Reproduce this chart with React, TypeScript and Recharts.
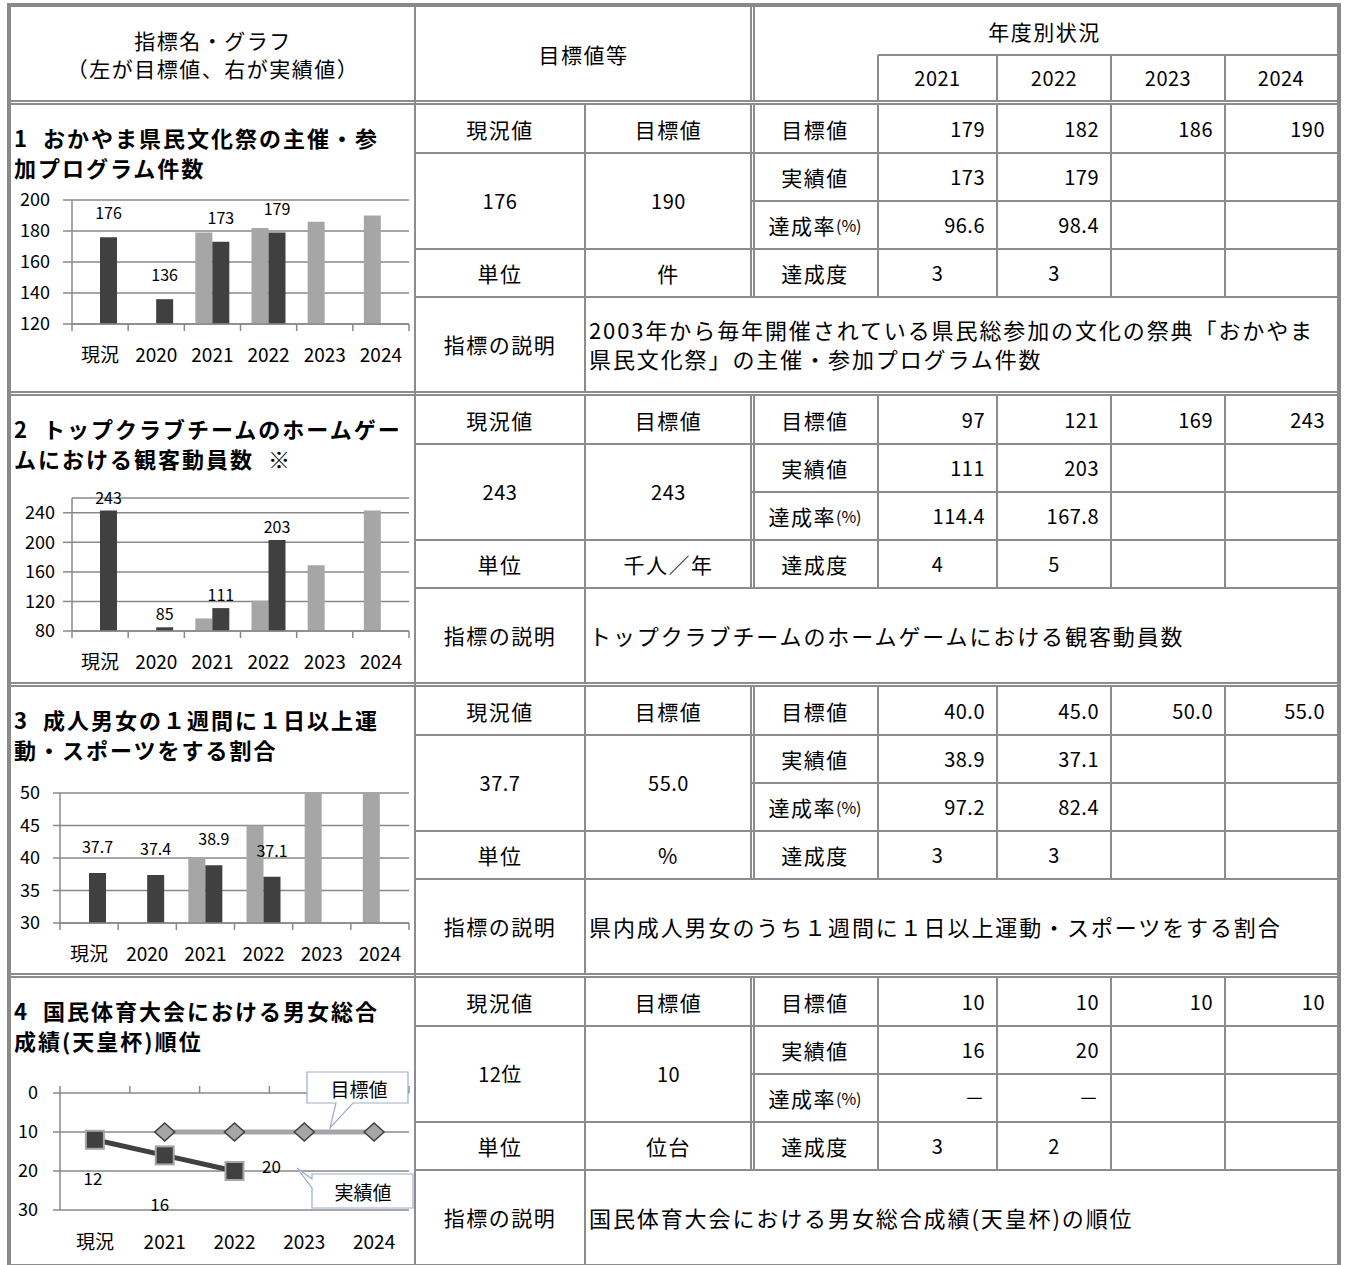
import type { ReactNode } from 'react'
import { Bar, BarChart, CartesianGrid, LabelList, Line, LineChart, XAxis, YAxis } from 'recharts'

const FONT = "'Noto Sans CJK JP', 'Noto Sans', sans-serif"
const LINE = '#8c8c8c'
const GRID = '#888888'
const LIGHT = '#a6a6a6'
const DARK = '#404040'

// chart data
const barCats = ['現況', '2020', '2021', '2022', '2023', '2024']
const rankCats = ['現況', '2021', '2022', '2023', '2024']

const festivalTarget = [null, null, 179, 182, 186, 190]
const festivalActual = [176, 136, 173, 179, null, null]
const festivalTicks = [120, 140, 160, 180, 200]

const spectatorTarget = [null, null, 97, 121, 169, 243]
const spectatorActual = [243, 85, 111, 203, null, null]
const spectatorTicks = [80, 120, 160, 200, 240]

const sportsTarget = [null, null, 40.0, 45.0, 50.0, 55.0]
const sportsActual = [37.7, 37.4, 38.9, 37.1, null, null]
const sportsTicks = [30, 35, 40, 45, 50]

const rankTarget = [null, 10, 10, 10, 10]
const rankActual = [12, 16, 20, null, null]
const rankTicks = [0, 10, 20, 30]

// table data
const years = ['2021', '2022', '2023', '2024']
const titles = [
  ['1  おかやま県民文化祭の主催・参', '加プログラム件数'],
  ['2  トップクラブチームのホームゲー', 'ムにおける観客動員数  ※'],
  ['3  成人男女の１週間に１日以上運', '動・スポーツをする割合'],
  ['4  国民体育大会における男女総合', '成績(天皇杯)順位'],
]
const currentValues = ['176', '243', '37.7', '12位']
const goalValues = ['190', '243', '55.0', '10']
const units = ['件', '千人／年', '%', '位台']
const yearTargets = [
  ['179', '182', '186', '190'],
  ['97', '121', '169', '243'],
  ['40.0', '45.0', '50.0', '55.0'],
  ['10', '10', '10', '10'],
]
const yearActuals = [['173', '179'], ['111', '203'], ['38.9', '37.1'], ['16', '20']]
const yearRates = [['96.6', '98.4'], ['114.4', '167.8'], ['97.2', '82.4'], ['－', '－']]
const yearGrades = [['3', '3'], ['4', '5'], ['3', '3'], ['3', '2']]
const descriptions = [
  ['2003年から毎年開催されている県民総参加の文化の祭典「おかやま', '県民文化祭」の主催・参加プログラム件数'],
  ['トップクラブチームのホームゲームにおける観客動員数'],
  ['県内成人男女のうち１週間に１日以上運動・スポーツをする割合'],
  ['国民体育大会における男女総合成績(天皇杯)の順位'],
]

const C1 = 415
const C2 = 585
const C3 = 752
const RIGHT = 1337
const yearCols = [[878, 997], [997, 1111], [1111, 1225], [1225, 1337]]
const sectionTops = [105, 396, 687, 978]
const ROW = 48

function HLine({ x1, x2, y, w = 2 }: { x1: number; x2: number; y: number; w?: number }) {
  return <div style={{ position: 'absolute', left: x1, top: y - w / 2, width: x2 - x1, height: w, background: LINE }} />
}

function VLine({ x, y1, y2, w = 2 }: { x: number; y1: number; y2: number; w?: number }) {
  return <div style={{ position: 'absolute', left: x - w / 2, top: y1, width: w, height: y2 - y1, background: LINE }} />
}

function HDouble({ x1, x2, y }: { x1: number; x2: number; y: number }) {
  return (
    <>
      <HLine x1={x1} x2={x2} y={y - 1.5} />
      <HLine x1={x1} x2={x2} y={y + 1.5} />
    </>
  )
}

function VDouble({ x, y1, y2 }: { x: number; y1: number; y2: number }) {
  return (
    <>
      <VLine x={x - 1.5} y1={y1} y2={y2} />
      <VLine x={x + 1.5} y1={y1} y2={y2} />
    </>
  )
}

function Box({
  x1, x2, y1, y2, align = 'center', pad = 0, size = 21, spacing = 1.5, bold = false, children,
}: {
  x1: number; x2: number; y1: number; y2: number; align?: string; pad?: number
  size?: number; spacing?: number; bold?: boolean; children: ReactNode
}) {
  return (
    <div
      style={{
        position: 'absolute', left: x1, top: y1, width: x2 - x1, height: y2 - y1,
        display: 'flex', alignItems: 'center',
        justifyContent: align === 'center' ? 'center' : align === 'right' ? 'flex-end' : 'flex-start',
        paddingLeft: align === 'left' ? pad : 0, paddingRight: align === 'right' ? pad : 0,
        boxSizing: 'border-box', fontSize: size, letterSpacing: spacing, lineHeight: 1,
        fontWeight: bold ? 700 : 400, whiteSpace: 'pre', color: '#000',
      }}
    >
      {children}
    </div>
  )
}

function CatTick(props: any) {
  const { x, payload, index, bw, axisY, labelY, last, up } = props
  const end = up ? axisY - 7 : axisY + 7
  return (
    <g>
      <line x1={x - bw / 2} x2={x - bw / 2} y1={axisY} y2={end} stroke={GRID} strokeWidth={1.5} />
      {index === last && <line x1={x + bw / 2} x2={x + bw / 2} y1={axisY} y2={end} stroke={GRID} strokeWidth={1.5} />}
      <text x={x} y={labelY} textAnchor="middle" dominantBaseline="central" fontSize={19} fontFamily={FONT} fill="#000">
        {payload.value}
      </text>
    </g>
  )
}

type BarPanelProps = {
  top: number; height: number; yWidth: number; marginTop: number; xHeight: number
  domain: [number, number]; ticks: number[]; tickSize: number; tickMargin: number
  target: (number | null)[]; actual: (number | null)[]; labelOffset: number
}

function BarPanel(p: BarPanelProps) {
  const data = barCats.map((cat, i) => ({ cat, target: p.target[i], actual: p.actual[i] }))
  const bw = (405 - p.yWidth - 6) / barCats.length
  const axisY = p.height - p.xHeight
  return (
    <div style={{ position: 'absolute', left: 10, top: p.top }}>
      <BarChart width={405} height={p.height} data={data} margin={{ top: p.marginTop, right: 6, left: 0, bottom: 0 }} barGap={0} barSize={17}>
        <CartesianGrid vertical={false} stroke={GRID} strokeWidth={1.5} />
        <XAxis
          dataKey="cat"
          interval={0}
          height={p.xHeight}
          tickLine={false}
          axisLine={{ stroke: GRID, strokeWidth: 1.5 }}
          tick={(t: any) => <CatTick {...t} bw={bw} axisY={axisY} labelY={axisY + 29} last={barCats.length - 1} />}
        />
        <YAxis
          width={p.yWidth}
          domain={p.domain}
          ticks={p.ticks}
          interval={0}
          allowDataOverflow
          tickSize={p.tickSize}
          tickMargin={p.tickMargin}
          tick={{ fill: '#000', fontSize: 18, fontFamily: FONT }}
          tickLine={{ stroke: GRID, strokeWidth: 1.5 }}
          axisLine={{ stroke: GRID, strokeWidth: 1.5 }}
        />
        <Bar dataKey="target" fill={LIGHT} isAnimationActive={false} />
        <Bar dataKey="actual" fill={DARK} isAnimationActive={false}>
          <LabelList dataKey="actual" position="top" offset={p.labelOffset} fill="#000" fontSize={16} fontFamily={FONT} />
        </Bar>
      </BarChart>
    </div>
  )
}

function Diamond(props: any) {
  const { cx, cy } = props
  if (cx == null || cy == null) return <g />
  return <polygon points={`${cx},${cy - 9} ${cx + 10},${cy} ${cx},${cy + 9} ${cx - 10},${cy}`} fill={LIGHT} stroke={DARK} strokeWidth={1.5} />
}

function Square(props: any) {
  const { cx, cy } = props
  if (cx == null || cy == null) return <g />
  return <rect x={cx - 9} y={cy - 9} width={18} height={18} fill={DARK} stroke={LIGHT} strokeWidth={2} />
}

const rankLabelShift = [[-2, 38], [-5, 48], [37, -6]]

function RankPanel() {
  const data = rankCats.map((cat, i) => ({ cat, target: rankTarget[i], actual: rankActual[i] }))
  const height = 190
  const xHeight = 55
  const marginTop = 18
  const bw = (405 - 50 - 6) / rankCats.length
  return (
    <div style={{ position: 'absolute', left: 10, top: 1075 }}>
      <LineChart width={405} height={height} data={data} margin={{ top: marginTop, right: 6, left: 0, bottom: 0 }}>
        <CartesianGrid vertical={false} stroke={GRID} strokeWidth={1.5} />
        <XAxis
          dataKey="cat"
          interval={0}
          height={xHeight}
          padding={{ left: bw / 2, right: bw / 2 }}
          tickLine={false}
          axisLine={false}
          tick={(t: any) => <CatTick {...t} bw={bw} axisY={marginTop} labelY={height - xHeight + 30} last={rankCats.length - 1} up />}
        />
        <YAxis
          width={50}
          domain={[0, 30]}
          ticks={rankTicks}
          interval={0}
          reversed
          allowDataOverflow
          tickSize={7}
          tickMargin={15}
          tick={{ fill: '#000', fontSize: 18, fontFamily: FONT }}
          tickLine={{ stroke: GRID, strokeWidth: 1.5 }}
          axisLine={{ stroke: GRID, strokeWidth: 1.5 }}
        />
        <Line dataKey="target" stroke={LIGHT} strokeWidth={5} dot={(d: any) => <Diamond key={`d${d.index}`} {...d} />} isAnimationActive={false} />
        <Line dataKey="actual" stroke={DARK} strokeWidth={5} dot={(d: any) => <Square key={`s${d.index}`} {...d} />} isAnimationActive={false}>
          <LabelList
            dataKey="actual"
            content={(l: any) => {
              if (l.value == null) return null
              const [dx, dy] = rankLabelShift[l.index] ?? [0, 0]
              return (
                <text x={l.x + dx} y={l.y + dy} textAnchor="middle" dominantBaseline="central" fontSize={17} fontFamily={FONT} fill="#000">
                  {l.value}
                </text>
              )
            }}
          />
        </Line>
      </LineChart>
    </div>
  )
}

function Callouts() {
  return (
    <svg width={1346} height={1265} style={{ position: 'absolute', left: 0, top: 0, pointerEvents: 'none' }}>
      <path d="M307,1072 H408 V1103 H353 L330,1128 L336,1103 H307 Z" fill="#fff" stroke="#9aaecb" strokeWidth={1.2} />
      <text x={359} y={1088} textAnchor="middle" dominantBaseline="central" fontSize={19} fontFamily={FONT}>目標値</text>
      <path d="M312,1174 H413 V1208 H312 V1188 L297,1168 L312,1179 Z" fill="#fff" stroke="#9aaecb" strokeWidth={1.2} />
      <text x={363} y={1191} textAnchor="middle" dominantBaseline="central" fontSize={19} fontFamily={FONT}>実績値</text>
    </svg>
  )
}

function Section({ k }: { k: number }) {
  const S = sectionTops[k]
  const rows = [0, 1, 2, 3].map((i) => [S + ROW * i, S + ROW * (i + 1)])
  const descTop = S + ROW * 4
  const descBottom = S + 286
  return (
    <>
      <VLine x={C2} y1={S} y2={descBottom} />
      <VDouble x={C3} y1={S} y2={descTop} />
      {yearCols.map(([x]) => <VLine key={x} x={x} y1={S} y2={descTop} />)}
      <HLine x1={C1} x2={RIGHT} y={S + ROW} />
      <HLine x1={C3} x2={RIGHT} y={S + ROW * 2} />
      <HLine x1={C1} x2={RIGHT} y={S + ROW * 3} />
      <HLine x1={C1} x2={RIGHT} y={descTop} />
      <HDouble x1={11} x2={RIGHT} y={S + 288.5} />

      <Box x1={12} x2={C1} y1={S + 16} y2={S + 48} align="left" pad={2} size={22} spacing={2} bold>{titles[k][0]}</Box>
      <Box x1={12} x2={C1} y1={S + 46} y2={S + 78} align="left" pad={2} size={22} spacing={2} bold>{titles[k][1]}</Box>

      <Box x1={C1} x2={C2} y1={rows[0][0]} y2={rows[0][1]}>現況値</Box>
      <Box x1={C2} x2={C3} y1={rows[0][0]} y2={rows[0][1]}>目標値</Box>
      <Box x1={C1} x2={C2} y1={rows[1][0]} y2={rows[2][1]} size={20} spacing={0.5}>{currentValues[k]}</Box>
      <Box x1={C2} x2={C3} y1={rows[1][0]} y2={rows[2][1]} size={20} spacing={0.5}>{goalValues[k]}</Box>
      <Box x1={C1} x2={C2} y1={rows[3][0]} y2={rows[3][1]}>単位</Box>
      <Box x1={C2} x2={C3} y1={rows[3][0]} y2={rows[3][1]}>{units[k]}</Box>

      <Box x1={C3} x2={878} y1={rows[0][0]} y2={rows[0][1]}>目標値</Box>
      <Box x1={C3} x2={878} y1={rows[1][0]} y2={rows[1][1]}>実績値</Box>
      <Box x1={C3} x2={878} y1={rows[2][0]} y2={rows[2][1]}>
        達成率<span style={{ fontSize: 16, letterSpacing: 0 }}>(%)</span>
      </Box>
      <Box x1={C3} x2={878} y1={rows[3][0]} y2={rows[3][1]}>達成度</Box>

      {yearCols.map(([x1, x2], i) => (
        <Box key={`t${i}`} x1={x1} x2={x2} y1={rows[0][0]} y2={rows[0][1]} align="right" pad={12} size={20} spacing={0.5}>
          {yearTargets[k][i] ?? ''}
        </Box>
      ))}
      {yearCols.map(([x1, x2], i) => (
        <Box key={`a${i}`} x1={x1} x2={x2} y1={rows[1][0]} y2={rows[1][1]} align="right" pad={12} size={20} spacing={0.5}>
          {yearActuals[k][i] ?? ''}
        </Box>
      ))}
      {yearCols.map(([x1, x2], i) => (
        <Box key={`r${i}`} x1={x1} x2={x2} y1={rows[2][0]} y2={rows[2][1]} align="right" pad={12} size={20} spacing={0.5}>
          {yearRates[k][i] ?? ''}
        </Box>
      ))}
      {yearCols.map(([x1, x2], i) => (
        <Box key={`g${i}`} x1={x1} x2={x2} y1={rows[3][0]} y2={rows[3][1]} size={20} spacing={0.5}>
          {yearGrades[k][i] ?? ''}
        </Box>
      ))}

      <Box x1={C1} x2={C2} y1={descTop} y2={descBottom}>指標の説明</Box>
      <div
        style={{
          position: 'absolute', left: C2 + 4, top: descTop, width: RIGHT - C2 - 6, height: descBottom - descTop,
          display: 'flex', flexDirection: 'column', justifyContent: 'center',
          fontSize: 22, letterSpacing: 1.9, lineHeight: '29px', whiteSpace: 'pre', color: '#000',
        }}
      >
        {descriptions[k].map((line) => <div key={line}>{line}</div>)}
      </div>
    </>
  )
}

export default function App() {
  return (
    <div style={{ position: 'absolute', left: 0, top: 0, width: 1346, height: 1265, overflow: 'hidden', background: '#fff', fontFamily: FONT }}>
      <div style={{ position: 'absolute', left: 7, top: 3, width: 1334, height: 1320, border: '4px solid #8a8a8a', boxSizing: 'border-box' }} />

      {/* header */}
      <VLine x={C1} y1={7} y2={1265} />
      <VDouble x={C3} y1={7} y2={102} />
      <HLine x1={878} x2={RIGHT} y={55} />
      {yearCols.map(([x]) => <VLine key={x} x={x} y1={55} y2={102} />)}
      <HDouble x1={11} x2={RIGHT} y={102.5} />

      <Box x1={11} x2={C1} y1={26} y2={54}>指標名・グラフ</Box>
      <Box x1={11} x2={C1} y1={54} y2={82}>（左が目標値、右が実績値）</Box>
      <Box x1={C1} x2={C3} y1={7} y2={101}>目標値等</Box>
      <Box x1={C3} x2={RIGHT} y1={7} y2={55}>年度別状況</Box>
      {yearCols.map(([x1, x2], i) => (
        <Box key={years[i]} x1={x1} x2={x2} y1={55} y2={101} size={20} spacing={0.5}>{years[i]}</Box>
      ))}

      {sectionTops.map((_, k) => <Section key={k} k={k} />)}

      <BarPanel top={180} height={200} yWidth={62} marginTop={20} xHeight={56} domain={[120, 200]} ticks={festivalTicks}
        tickSize={9} tickMargin={13} target={festivalTarget} actual={festivalActual} labelOffset={18} />
      <BarPanel top={480} height={200} yWidth={62} marginTop={18} xHeight={49} domain={[80, 260]} ticks={spectatorTicks}
        tickSize={9} tickMargin={8} target={spectatorTarget} actual={spectatorActual} labelOffset={7} />
      <BarPanel top={775} height={195} yWidth={50} marginTop={18} xHeight={47} domain={[30, 50]} ticks={sportsTicks}
        tickSize={7} tickMargin={13} target={sportsTarget} actual={sportsActual} labelOffset={20} />
      <RankPanel />
      <Callouts />
    </div>
  )
}
